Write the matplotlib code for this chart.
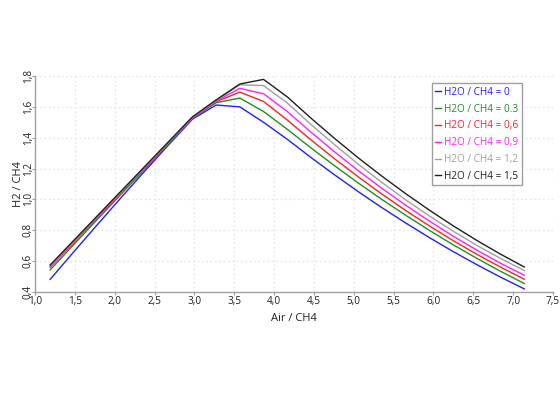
import matplotlib
matplotlib.use("Agg")
import matplotlib.pyplot as plt
from matplotlib.ticker import FuncFormatter, MultipleLocator

plt.rcParams['font.family'] = ['Open Sans', 'DejaVu Sans']

air_ch4 = [1.19, 1.4875, 1.785, 2.0825, 2.38, 2.6775, 2.975, 3.2725, 3.57, 3.8675,
           4.165, 4.4625, 4.76, 5.0575, 5.355, 5.6525, 5.95, 6.2475, 6.545, 6.8425, 7.14]

h2_ratio_0 = [0.482, 0.661, 0.838, 1.013, 1.185, 1.354, 1.520, 1.612, 1.600, 1.500,
              1.390, 1.272, 1.159, 1.050, 0.946, 0.847, 0.752, 0.662, 0.577, 0.496, 0.420]
h2_ratio_03 = [0.543, 0.708, 0.872, 1.035, 1.198, 1.362, 1.525, 1.627, 1.657, 1.570,
               1.455, 1.334, 1.218, 1.106, 0.999, 0.897, 0.799, 0.706, 0.618, 0.534, 0.455]
h2_ratio_06 = [0.560, 0.721, 0.882, 1.043, 1.205, 1.366, 1.528, 1.633, 1.696, 1.635,
               1.515, 1.386, 1.263, 1.146, 1.034, 0.928, 0.828, 0.733, 0.644, 0.561, 0.483]
h2_ratio_09 = [0.565, 0.726, 0.887, 1.047, 1.208, 1.369, 1.530, 1.637, 1.720, 1.685,
               1.570, 1.436, 1.308, 1.186, 1.071, 0.962, 0.859, 0.762, 0.671, 0.586, 0.508]
h2_ratio_12 = [0.570, 0.730, 0.891, 1.051, 1.211, 1.372, 1.532, 1.641, 1.743, 1.738,
               1.625, 1.486, 1.354, 1.228, 1.109, 0.997, 0.892, 0.794, 0.702, 0.617, 0.539]
h2_ratio_15 = [0.575, 0.735, 0.895, 1.055, 1.215, 1.375, 1.535, 1.645, 1.748, 1.778,
               1.665, 1.527, 1.395, 1.269, 1.150, 1.037, 0.930, 0.829, 0.734, 0.645, 0.562]

series = [h2_ratio_0, h2_ratio_03, h2_ratio_06, h2_ratio_09, h2_ratio_12, h2_ratio_15]
labels = ['H2O / CH4 = 0', 'H2O / CH4 = 0.3', 'H2O / CH4 = 0,6',
          'H2O / CH4 = 0,9', 'H2O / CH4 = 1,2', 'H2O / CH4 = 1,5']
colors = ['#2020ff', '#209020', '#ff2020', '#ff20ff', '#a0a0a0', '#202020']

fig = plt.figure(figsize=(5.6, 3.96), dpi=100)
ax = fig.add_axes([35/560, 1-292/396, (553-35)/560, (292-76)/396])

for ys, lab, c in zip(series, labels, colors):
    ax.plot(air_ch4, ys, color=c, lw=1.0, label=lab)

ax.set_xlim(1.0, 7.5)
ax.set_ylim(0.4, 1.8)
ax.xaxis.set_major_locator(MultipleLocator(0.5))
ax.yaxis.set_major_locator(MultipleLocator(0.2))
fmt = FuncFormatter(lambda v, p: f"{v:.1f}".replace('.', ','))
ax.xaxis.set_major_formatter(fmt)
ax.yaxis.set_major_formatter(fmt)

ax.grid(True, color='#e6e6e6', linestyle=(0, (1.5, 2)), lw=0.9)
ax.set_axisbelow(True)
for s in ['top', 'right']:
    ax.spines[s].set_visible(False)
for s in ['left', 'bottom']:
    ax.spines[s].set_color('#a0a0a0')
    ax.spines[s].set_linewidth(1.0)

ax.tick_params(axis='both', labelsize=7.2, color='#a0a0a0', length=2,
               labelcolor='#202020')
ax.tick_params(axis='x', pad=1.0)
ax.tick_params(axis='y', pad=-1.0)
for lab in ax.get_yticklabels():
    lab.set_rotation(90)
    lab.set_va('center')

ax.set_xlabel('Air / CH4', fontsize=8, color='#202020')
ax.set_ylabel('H2 / CH4', fontsize=8, color='#202020')
ax.xaxis.set_label_coords(0.5, -0.095)
ax.yaxis.set_label_coords(-0.022, 0.5)

leg = ax.legend(loc='upper left', bbox_to_anchor=(0.766, 0.966), borderaxespad=0,
                fontsize=7.2, handlelength=0.6, handletextpad=0.3, labelspacing=0.58,
                fancybox=False, framealpha=1, edgecolor='#a0a0a0', borderpad=0.35)
leg.get_frame().set_linewidth(1.0)
for t, c in zip(leg.get_texts(), colors):
    t.set_color(c)

fig.savefig('out.png', dpi=100)
